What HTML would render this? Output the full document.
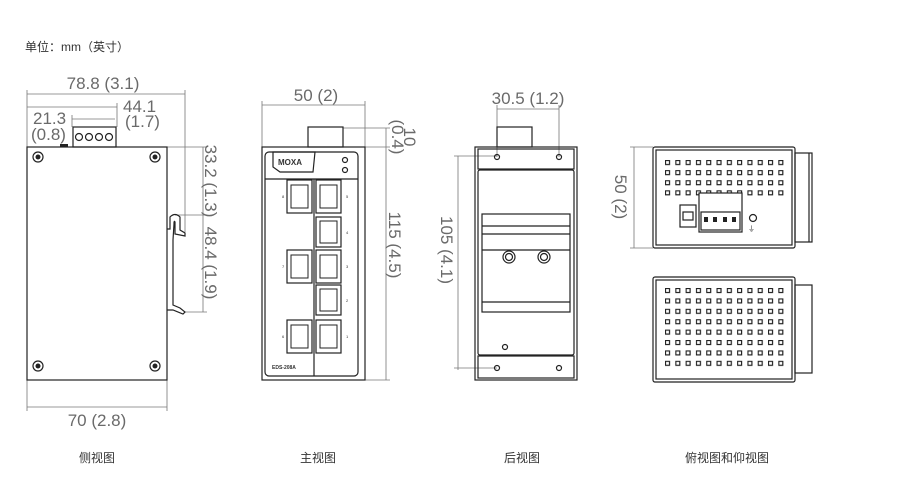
<!DOCTYPE html>
<html><head><meta charset="utf-8"><style>
html,body{margin:0;padding:0;background:#fff;width:900px;height:504px;overflow:hidden}
svg{display:block}
.d{font-family:"Liberation Sans",sans-serif;font-size:17px;fill:#6a6a6a}
.c{font-family:"Liberation Sans","Noto Sans CJK SC",sans-serif;font-size:12px;fill:#333}
</style></head><body>
<svg width="900" height="504" viewBox="0 0 900 504" xmlns="http://www.w3.org/2000/svg">
<defs>
<pattern id="dots" x="665" y="160" width="10.3" height="10.1" patternUnits="userSpaceOnUse">
<rect x="0.5" y="0.5" width="4" height="4" fill="none" stroke="#222" stroke-width="1.2"/></pattern>
<pattern id="dots2" x="665" y="288" width="10.3" height="10.4" patternUnits="userSpaceOnUse">
<rect x="0.5" y="0.5" width="4" height="4" fill="none" stroke="#222" stroke-width="1.2"/></pattern>
</defs>
<text class="c" x="25" y="51">单位：mm（英寸）</text>

<!-- SIDE VIEW -->
<g fill="none" stroke="#777" stroke-width="0.8">
<line x1="27" y1="94" x2="185" y2="94"/><line x1="27" y1="90" x2="27" y2="147"/><line x1="185" y1="90" x2="185" y2="232"/>
<line x1="27" y1="107" x2="117" y2="107"/><line x1="117" y1="103" x2="117" y2="127"/>
<line x1="72" y1="119" x2="115" y2="119"/><line x1="72" y1="115" x2="72" y2="127"/>
<line x1="203" y1="147" x2="203" y2="312"/>
<line x1="167" y1="147" x2="207" y2="147"/><line x1="175" y1="215" x2="207" y2="215"/><line x1="185" y1="312" x2="207" y2="312"/>
<line x1="27" y1="407" x2="167" y2="407"/><line x1="27" y1="380" x2="27" y2="411"/><line x1="167" y1="380" x2="167" y2="411"/>
</g>
<text class="d" x="103" y="89" text-anchor="middle">78.8 (3.1)</text>
<text class="d" x="123" y="112">44.1</text><text class="d" x="125" y="127">(1.7)</text>
<text class="d" x="33" y="124">21.3</text><text class="d" x="31" y="140">(0.8)</text>
<text class="d" text-anchor="middle" transform="translate(205,181) rotate(90)">33.2 (1.3)</text>
<text class="d" text-anchor="middle" transform="translate(205,263) rotate(90)">48.4 (1.9)</text>
<text class="d" x="97" y="426" text-anchor="middle">70 (2.8)</text>
<g fill="none" stroke="#222" stroke-width="1.2">
<rect x="27" y="147" width="140" height="233"/>
<rect x="73" y="127" width="43" height="20"/>
<circle cx="79" cy="137" r="3.5"/><circle cx="89" cy="137" r="3.5"/><circle cx="99" cy="137" r="3.5"/><circle cx="109" cy="137" r="3.5"/>
<path d="M167 229 L170 229 L170 217 Q175 212 180 217 L180 230 L185 233 L185 236 L175 234 L175 222 Q174 220 174 224 L173 240 L173 305 L180 308 L185 312 L183 314 L173 310 L167 310"/>
</g>
<g fill="#fff" stroke="#222" stroke-width="1.2">
<circle cx="38" cy="157" r="5"/><circle cx="155" cy="157" r="5"/><circle cx="38" cy="366" r="5"/><circle cx="155" cy="366" r="5"/>
</g>
<g fill="#222"><circle cx="38" cy="157" r="2.5"/><circle cx="155" cy="157" r="2.5"/><circle cx="38" cy="366" r="2.5"/><circle cx="155" cy="366" r="2.5"/>
<rect x="60" y="144" width="8" height="3"/></g>

<!-- FRONT VIEW -->
<g fill="none" stroke="#777" stroke-width="0.8">
<line x1="262" y1="105" x2="365" y2="105"/><line x1="262" y1="101" x2="262" y2="147"/><line x1="365" y1="101" x2="365" y2="147"/>
<line x1="386" y1="128" x2="386" y2="380"/>
<line x1="343" y1="128" x2="390" y2="128"/><line x1="365" y1="147" x2="390" y2="147"/><line x1="365" y1="380" x2="390" y2="380"/>
</g>
<text class="d" x="316" y="101" text-anchor="middle">50 (2)</text>
<text class="d" text-anchor="middle" transform="translate(404,137) rotate(90)">10</text>
<text class="d" text-anchor="middle" transform="translate(392,137) rotate(90)">(0.4)</text>
<text class="d" text-anchor="middle" transform="translate(389,245) rotate(90)">115 (4.5)</text>
<g fill="none" stroke="#222" stroke-width="1.2">
<rect x="262" y="147" width="103" height="233"/>
<rect x="308" y="127" width="35" height="20"/>
<rect x="265" y="152" width="93" height="224" rx="4"/>
<path d="M273 152 L315 152 L313 172 L280 172 L273 167 Z"/>
<line x1="265" y1="179" x2="358" y2="179"/><line x1="314" y1="179" x2="314" y2="376"/>
<circle cx="345" cy="160" r="2.5"/><circle cx="345" cy="170" r="2.5"/>
</g>
<text x="278" y="165" style="font-family:'Liberation Sans',sans-serif;font-size:8px;font-weight:bold;fill:#333">MOXA</text>
<text x="272" y="369" style="font-family:'Liberation Sans',sans-serif;font-size:5px;font-weight:bold;fill:#333">EDS-208A</text>
<g fill="none" stroke="#222" stroke-width="1.2">
<rect x="287" y="180" width="25" height="33"/><rect x="316" y="180" width="25" height="33"/>
<rect x="316" y="217" width="25" height="30"/>
<rect x="287" y="250" width="25" height="33"/><rect x="316" y="250" width="25" height="33"/>
<rect x="316" y="285" width="25" height="30"/>
<rect x="287" y="320" width="25" height="33"/><rect x="316" y="320" width="25" height="33"/>
<g stroke-width="1">
<path d="M291 185 h17 v23 h-17 z"/><path d="M320 185 h17 v23 h-17 z"/><path d="M320 221 h17 v22 h-17 z"/>
<path d="M291 255 h17 v23 h-17 z"/><path d="M320 255 h17 v23 h-17 z"/><path d="M320 289 h17 v22 h-17 z"/>
<path d="M291 325 h17 v23 h-17 z"/><path d="M320 325 h17 v23 h-17 z"/>
</g></g>
<g style="font-family:'Liberation Sans',sans-serif;font-size:4px;fill:#333">
<text x="282" y="198">8</text><text x="346" y="198">5</text><text x="346" y="234">4</text><text x="282" y="268">7</text><text x="346" y="268">3</text><text x="346" y="302">2</text><text x="282" y="338">6</text><text x="346" y="338">1</text></g>

<!-- BACK VIEW -->
<g fill="none" stroke="#777" stroke-width="0.8">
<line x1="497" y1="109" x2="559" y2="109"/><line x1="497" y1="105" x2="497" y2="157"/><line x1="559" y1="105" x2="559" y2="157"/>
<line x1="458" y1="156" x2="458" y2="370"/><line x1="454" y1="156" x2="497" y2="156"/><line x1="454" y1="368" x2="497" y2="368"/>
</g>
<text class="d" x="528" y="104" text-anchor="middle">30.5 (1.2)</text>
<text class="d" text-anchor="middle" transform="translate(441,250) rotate(90)">105 (4.1)</text>
<g fill="none" stroke="#222" stroke-width="1.2">
<rect x="475" y="147" width="102" height="233"/>
<rect x="497" y="127" width="35" height="20"/>
<rect x="478" y="149" width="96" height="20"/><rect x="478" y="170" width="96" height="185" rx="2"/><rect x="478" y="356" width="96" height="22"/>
<rect x="482" y="214" width="88" height="98"/>
<line x1="482" y1="226" x2="570" y2="226"/><line x1="482" y1="234" x2="570" y2="234"/><line x1="482" y1="250" x2="570" y2="250"/><line x1="482" y1="302" x2="570" y2="302"/>
<circle cx="509" cy="257" r="6"/><circle cx="544" cy="257" r="6"/><circle cx="509" cy="257" r="3.5"/><circle cx="544" cy="257" r="3.5"/>
<circle cx="497" cy="157" r="2.5"/><circle cx="559" cy="157" r="2.5"/><circle cx="497" cy="368" r="2.5"/><circle cx="559" cy="368" r="2.5"/><circle cx="505" cy="347" r="2.5"/>
</g>

<!-- TOP VIEW -->
<g fill="none" stroke="#777" stroke-width="0.8">
<line x1="634" y1="147" x2="634" y2="248"/><line x1="630" y1="147" x2="653" y2="147"/><line x1="630" y1="248" x2="653" y2="248"/>
</g>
<text class="d" text-anchor="middle" transform="translate(615,197) rotate(90)">50 (2)</text>
<g fill="none" stroke="#222" stroke-width="1.2">
<rect x="653" y="147" width="142" height="101" rx="2"/><rect x="656" y="150" width="136" height="95"/>
<rect x="795" y="153" width="17" height="89"/><line x1="809" y1="153" x2="809" y2="242"/>
<rect x="653" y="277" width="142" height="105" rx="2"/><rect x="656" y="280" width="136" height="99"/>
<rect x="795" y="285" width="17" height="88"/>
</g>
<rect x="665" y="160" width="120" height="40" fill="url(#dots)"/>
<rect x="665" y="288" width="120" height="83" fill="url(#dots2)"/>
<g fill="none" stroke="#222" stroke-width="1.2">
<rect x="699" y="193" width="43" height="39" fill="#fff"/><rect x="701" y="212" width="39" height="18"/>
<rect x="680" y="205" width="16" height="22" fill="#fff"/><rect x="683" y="212" width="10" height="8"/>
<circle cx="753" cy="218" r="3.5"/>
</g>
<g fill="#222"><rect x="704" y="217" width="4" height="5"/><rect x="713" y="217" width="4" height="5"/><rect x="723" y="217" width="4" height="5"/><rect x="732" y="217" width="4" height="5"/>
<text x="748" y="231" style="font-size:7px;font-family:'DejaVu Sans',sans-serif">⏚</text></g>

<g class="c" text-anchor="middle">
<text x="97" y="462">侧视图</text><text x="318" y="462">主视图</text><text x="522" y="462">后视图</text><text x="727" y="462">俯视图和仰视图</text>
</g>
</svg>
</body></html>
